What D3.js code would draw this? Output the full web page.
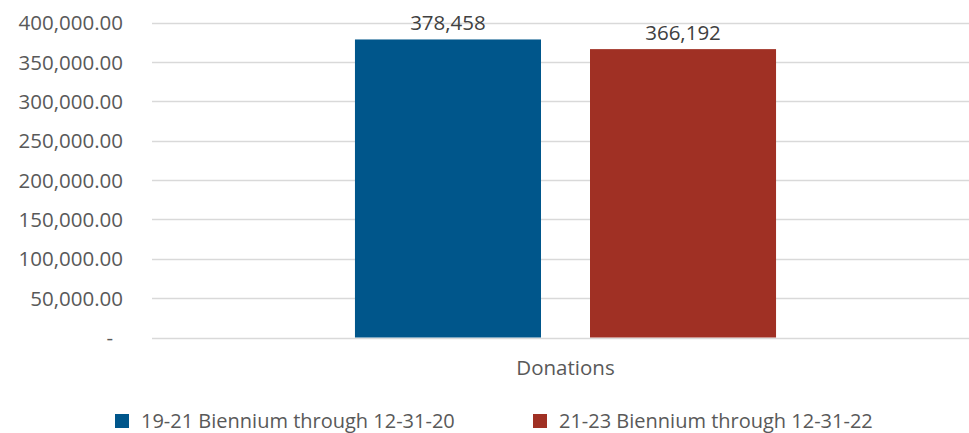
<!DOCTYPE html>
<html lang="en">
  <head>
    <meta charset="utf-8">
    <title>Donations</title>
    <style>
      body { margin: 0; background: #fff; }
      svg { display: block; font-family: "Open Sans", sans-serif; }
    </style>
  </head>
  <body>
    <div id="here"></div>
    <script src="https://d3js.org/d3.v7.min.js"></script>
    <script>
      // data
      var categories = ["Donations"];
      var seriesNames = ["19-21 Biennium through 12-31-20", "21-23 Biennium through 12-31-22"];
      var seriesValues = [378458, 366192];
      var yTicks = [0, 50000, 100000, 150000, 200000, 250000, 300000, 350000, 400000];
      var colors = ["#00568b", "#a03024"];

      var w = 969, h = 433;
      var plotLeft = 152, plotRight = 979, plotTop = 22.5, plotBottom = 337.5;

      var svg = d3.select("#here")
        .append("svg")
        .attr("width", w)
        .attr("height", h);

      var x = d3.scaleBand()
        .domain(categories)
        .range([plotLeft, plotRight])
        .paddingInner(0)
        .paddingOuter(0.482);

      var x1 = d3.scaleBand()
        .domain(seriesNames)
        .range([0, x.bandwidth()])
        .paddingInner(0.2085)
        .paddingOuter(0);

      var y = d3.scaleLinear()
        .domain([0, 400000])
        .range([plotBottom, plotTop]);

      var fmt = d3.format(",.2f");

      // gridlines
      svg.append("g")
        .selectAll("line")
        .data(yTicks)
        .enter()
        .append("line")
        .attr("x1", plotLeft)
        .attr("x2", w)
        .attr("y1", function(d) { return Math.round(y(d)) + 0.5; })
        .attr("y2", function(d) { return Math.round(y(d)) + 0.5; })
        .attr("stroke", "#d9d9d9")
        .attr("stroke-width", 1.3);

      // y axis labels
      var yAxis = d3.axisLeft(y)
        .tickValues(yTicks)
        .tickSize(0)
        .tickPadding(0)
        .tickFormat(function(d) { return d === 0 ? "-" : fmt(d); });

      var ya = svg.append("g")
        .attr("transform", "translate(123,0)")
        .call(yAxis);
      ya.select(".domain").remove();
      ya.attr("font-family", null).attr("font-size", null);
      ya.selectAll("text")
        .attr("fill", "#595959")
        .attr("font-size", "20.5px")
        .attr("font-family", "Open Sans")
        .attr("dy", "0.35em")
        .attr("x", function(d) { return d === 0 ? -10 : 0; });

      // bars
      var group = svg.append("g")
        .attr("transform", "translate(" + x(categories[0]) + ",0)");

      group.selectAll("rect")
        .data(seriesValues)
        .enter()
        .append("rect")
        .attr("x", function(d, i) { return x1(seriesNames[i]); })
        .attr("y", function(d) { return y(d); })
        .attr("width", x1.bandwidth())
        .attr("height", function(d) { return y(0) - y(d); })
        .attr("fill", function(d, i) { return colors[i]; });

      group.selectAll("text.val")
        .data(seriesValues)
        .enter()
        .append("text")
        .attr("class", "val")
        .attr("x", function(d, i) { return x1(seriesNames[i]) + x1.bandwidth() / 2; })
        .attr("y", function(d) { return y(d) - 9; })
        .attr("text-anchor", "middle")
        .attr("fill", "#404040")
        .attr("font-size", "20.5px")
        .text(function(d) { return d3.format(",")(d); });

      // category label
      svg.append("g")
        .selectAll("text")
        .data(categories)
        .enter()
        .append("text")
        .attr("x", function(d) { return x(d) + x.bandwidth() / 2; })
        .attr("y", 375)
        .attr("text-anchor", "middle")
        .attr("fill", "#595959")
        .attr("font-size", "20.5px")
        .text(function(d) { return d; });

      // legend
      var legX = [115, 533];
      var leg = svg.append("g")
        .selectAll("g")
        .data(seriesNames)
        .enter()
        .append("g")
        .attr("transform", function(d, i) { return "translate(" + legX[i] + ",414)"; });

      leg.append("rect")
        .attr("width", 14)
        .attr("height", 14)
        .attr("fill", function(d, i) { return colors[i]; });

      leg.append("text")
        .attr("x", 26)
        .attr("y", 14)
        .attr("fill", "#595959")
        .attr("font-size", "20px")
        .text(function(d) { return d; });
    </script>
  </body>
</html>
